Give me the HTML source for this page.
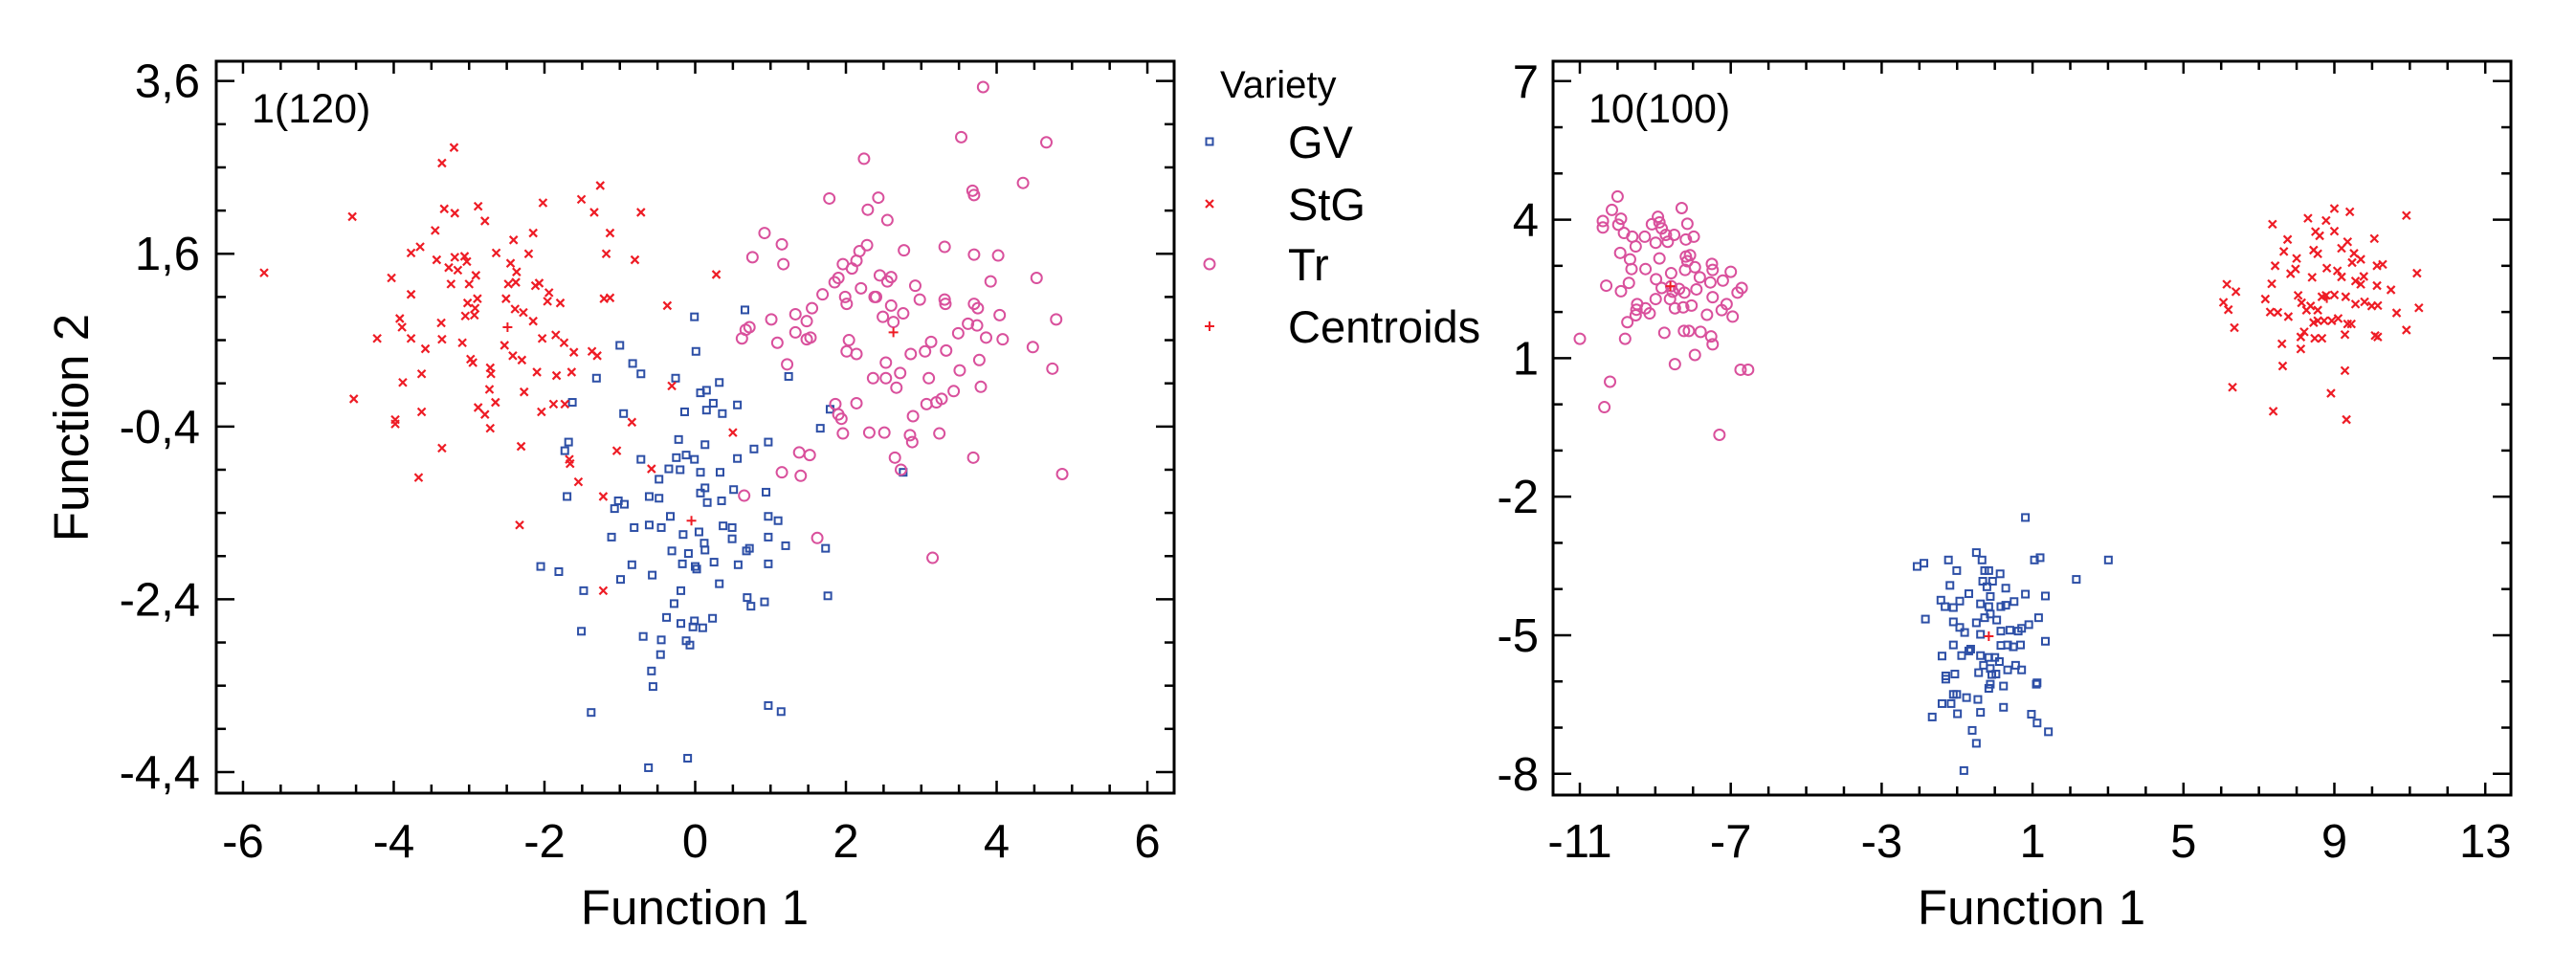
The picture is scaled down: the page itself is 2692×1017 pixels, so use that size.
<!DOCTYPE html>
<html><head><meta charset="utf-8"><style>
html,body{margin:0;padding:0;background:#fff;}
svg{display:block;font-family:"Liberation Sans",sans-serif;}
</style></head><body>
<svg id="chart" width="2692" height="1017" viewBox="0 0 2692 1017" xmlns="http://www.w3.org/2000/svg"></svg>
<script>
// ---------- DATA ----------
const leftXTicks = [-6,-4,-2,0,2,4,6];
const leftYTicks = [3.6,1.6,-0.4,-2.4,-4.4];
const leftYTickLabels = ["3,6","1,6","-0,4","-2,4","-4,4"];
const rightXTicks = [-11,-7,-3,1,5,9,13];
const rightYTicks = [7,4,1,-2,-5,-8];
const legendLabels = ["GV","StG","Tr","Centroids"];

const leftStG = [[-5.72,1.38],[-4.55,2.03],[-4.53,-0.08],[-3.36,2.65],[-3.2,2.83],[-3.33,2.12],[-3.19,2.07],[-2.88,2.15],[-2.79,1.98],[-3.45,1.87],[-3.65,1.68],[-3.77,1.61],[-3.43,1.53],[-3.19,1.56],[-3.06,1.57],[-3.03,1.51],[-3.27,1.44],[-3.15,1.41],[-2.91,1.35],[-3.0,1.25],[-3.24,1.25],[-4.03,1.32],[-3.77,1.13],[-3.02,1.03],[-2.89,1.08],[-2.92,0.97],[-3.05,0.88],[-2.93,0.89],[-3.92,0.85],[-3.89,0.75],[-3.77,0.62],[-3.37,0.8],[-3.36,0.61],[-3.58,0.5],[-3.09,0.57],[-4.22,0.62],[-2.98,0.38],[-2.95,0.34],[-3.63,0.21],[-3.88,0.11],[-2.72,0.28],[-2.71,0.21],[-2.53,0.54],[-2.42,0.42],[-2.3,0.37],[-2.64,1.61],[-2.41,1.76],[-2.15,1.84],[-2.21,1.6],[-2.45,1.49],[-2.37,1.39],[-2.48,1.25],[-2.38,1.27],[-2.12,1.23],[-2.07,1.26],[-2.51,1.08],[-2.39,0.96],[-2.28,0.92],[-2.15,0.82],[-1.94,1.15],[-1.96,1.05],[-1.79,1.03],[-2.03,0.62],[-1.85,0.66],[-1.74,0.57],[-1.61,0.46],[-1.37,0.47],[-1.3,0.42],[-2.1,0.23],[-1.84,0.19],[-1.64,0.23],[-2.02,2.19],[-1.51,2.23],[-1.34,2.08],[-1.26,2.39],[-0.72,2.08],[-1.13,1.84],[-1.18,1.6],[-0.8,1.53],[-1.21,1.08],[-1.13,1.09],[-0.37,1.0],[0.28,1.36],[-2.73,0.03],[-2.27,0.0],[-2.65,-0.12],[-2.88,-0.18],[-2.79,-0.26],[-2.72,-0.42],[-3.63,-0.23],[-3.98,-0.32],[-3.98,-0.37],[-3.36,-0.65],[-3.67,-0.99],[-2.04,-0.23],[-1.88,-0.14],[-1.73,-0.14],[-2.31,-0.63],[-2.33,-1.54],[-1.67,-0.78],[-1.66,-0.83],[-1.55,-1.04],[-1.22,-1.21],[-1.04,-0.68],[-0.84,-0.35],[-0.58,-0.89],[-0.31,0.07],[0.5,-0.47],[-1.22,-2.3]];
const leftGV = [[0.66,0.95],[-0.01,0.87],[-1.0,0.54],[-0.83,0.33],[-0.72,0.21],[-1.31,0.16],[0.01,0.47],[-0.26,0.16],[0.32,0.11],[0.07,-0.01],[0.15,0.02],[-0.14,-0.23],[0.15,-0.21],[0.24,-0.13],[0.36,-0.25],[0.56,-0.15],[-1.63,-0.12],[-0.95,-0.25],[1.24,0.18],[1.79,-0.2],[1.66,-0.42],[-1.68,-0.58],[-1.73,-0.68],[-0.22,-0.55],[0.13,-0.61],[0.78,-0.66],[0.97,-0.58],[-0.72,-0.78],[-0.12,-0.73],[-0.25,-0.76],[-0.01,-0.78],[-0.35,-0.89],[-0.2,-0.9],[-0.48,-1.01],[0.07,-0.93],[0.33,-0.93],[0.56,-0.77],[2.76,-0.93],[-1.7,-1.21],[-1.02,-1.26],[-0.94,-1.3],[-1.07,-1.35],[-0.61,-1.21],[-0.48,-1.23],[0.07,-1.17],[0.13,-1.11],[0.16,-1.28],[0.35,-1.26],[0.51,-1.13],[0.94,-1.16],[0.97,-1.44],[1.1,-1.49],[-0.81,-1.57],[-0.61,-1.54],[-0.45,-1.57],[-0.33,-1.44],[-0.16,-1.65],[0.05,-1.62],[0.37,-1.55],[0.49,-1.57],[-1.11,-1.68],[-0.31,-1.84],[0.12,-1.75],[0.13,-1.83],[-0.09,-1.87],[-0.17,-1.99],[0.0,-2.02],[0.02,-2.05],[0.25,-1.97],[0.49,-1.7],[0.72,-1.81],[0.68,-1.84],[0.57,-2.0],[0.97,-1.68],[1.2,-1.78],[0.97,-1.99],[1.73,-1.81],[-2.05,-2.02],[-1.81,-2.08],[-0.84,-2.0],[-0.99,-2.17],[-1.48,-2.3],[-0.57,-2.12],[-0.19,-2.3],[0.32,-2.22],[0.69,-2.38],[0.74,-2.48],[0.92,-2.43],[1.76,-2.36],[-0.28,-2.45],[-0.38,-2.61],[-0.19,-2.68],[-0.01,-2.65],[-0.03,-2.72],[0.1,-2.73],[0.23,-2.62],[-1.51,-2.77],[-0.69,-2.83],[-0.45,-2.87],[-0.12,-2.88],[-0.07,-2.93],[-0.46,-3.04],[-0.58,-3.23],[-0.56,-3.41],[-1.38,-3.71],[0.97,-3.63],[1.14,-3.7],[-0.1,-4.24],[-0.62,-4.35]];
const leftTr = [[3.82,3.53],[3.53,2.95],[4.66,2.89],[2.24,2.7],[4.35,2.42],[1.78,2.24],[2.43,2.25],[3.68,2.33],[3.7,2.28],[2.29,2.11],[2.55,1.99],[0.92,1.84],[1.15,1.71],[0.76,1.56],[1.17,1.48],[1.96,1.48],[2.14,1.52],[2.18,1.63],[2.28,1.7],[2.77,1.64],[3.31,1.68],[3.7,1.59],[4.02,1.58],[1.9,1.32],[1.85,1.27],[2.08,1.43],[2.45,1.35],[2.6,1.33],[2.55,1.28],[3.92,1.28],[4.53,1.32],[2.92,1.23],[2.2,1.2],[1.69,1.13],[1.99,1.1],[2.01,1.02],[2.38,1.1],[2.4,1.1],[2.6,1.0],[2.98,1.07],[3.31,1.07],[3.32,1.02],[3.7,1.02],[3.75,0.97],[1.55,0.97],[1.33,0.9],[1.48,0.82],[1.01,0.84],[2.49,0.87],[2.63,0.81],[2.76,0.91],[4.04,0.89],[4.79,0.84],[0.72,0.75],[0.62,0.62],[0.67,0.72],[1.09,0.57],[1.33,0.69],[1.48,0.61],[1.53,0.63],[2.04,0.6],[3.13,0.58],[3.49,0.68],[3.62,0.79],[3.74,0.77],[3.86,0.63],[4.08,0.61],[4.48,0.52],[2.01,0.47],[2.14,0.44],[2.86,0.44],[3.05,0.47],[3.33,0.48],[1.22,0.32],[2.53,0.34],[2.72,0.22],[3.1,0.16],[3.51,0.25],[3.77,0.37],[4.74,0.27],[2.36,0.16],[2.53,0.16],[2.67,0.05],[3.43,0.01],[3.79,0.06],[3.27,-0.08],[3.2,-0.12],[3.07,-0.14],[1.86,-0.14],[2.14,-0.13],[1.9,-0.26],[1.94,-0.31],[2.89,-0.28],[1.96,-0.48],[2.31,-0.47],[2.51,-0.47],[2.85,-0.5],[2.88,-0.58],[3.24,-0.48],[1.38,-0.7],[1.52,-0.73],[2.65,-0.76],[2.73,-0.9],[3.69,-0.76],[4.87,-0.95],[1.15,-0.93],[1.4,-0.97],[0.65,-1.2],[1.62,-1.69],[3.15,-1.92]];
const leftCentroids = [[-2.49,0.75],[-0.05,-1.49],[2.63,0.69]];

const rightTr = [[-10.0,4.5],[-10.15,4.21],[-10.39,3.97],[-10.39,3.83],[-9.91,4.02],[-9.98,3.89],[-9.83,3.71],[-9.61,3.63],[-9.28,3.63],[-8.93,4.06],[-8.89,3.94],[-9.09,3.9],[-8.83,3.81],[-8.72,3.67],[-8.5,3.67],[-8.3,4.25],[-8.15,3.91],[-8.19,3.57],[-7.98,3.63],[-9.52,3.42],[-9.93,3.28],[-9.67,3.14],[-9.63,2.93],[-9.26,2.93],[-8.89,3.16],[-8.67,3.52],[-8.99,3.5],[-8.19,3.2],[-8.08,3.23],[-8.15,3.1],[-8.21,2.91],[-7.95,2.97],[-7.5,3.04],[-7.48,2.91],[-7.0,2.87],[-7.82,2.75],[-10.3,2.57],[-9.91,2.45],[-9.7,2.63],[-8.98,2.71],[-8.83,2.52],[-8.58,2.84],[-8.58,2.56],[-8.54,2.44],[-8.37,2.5],[-8.23,2.42],[-7.91,2.49],[-7.54,2.64],[-7.21,2.68],[-6.71,2.52],[-6.82,2.42],[-8.99,2.28],[-8.61,2.28],[-8.48,2.08],[-8.26,2.1],[-8.04,2.14],[-7.48,2.32],[-7.24,2.04],[-7.11,2.17],[-6.95,1.9],[-7.63,1.94],[-9.48,2.17],[-9.5,2.05],[-9.26,2.08],[-9.52,1.93],[-9.74,1.78],[-9.15,1.97],[-8.76,1.55],[-8.24,1.59],[-8.11,1.59],[-7.8,1.57],[-7.52,1.47],[-7.48,1.3],[-7.95,1.07],[-11.0,1.42],[-9.8,1.42],[-8.48,0.87],[-10.2,0.49],[-6.74,0.75],[-6.54,0.75],[-10.35,-0.06],[-7.3,-0.66]];
const rightStG = [[7.36,3.9],[8.3,4.03],[9.0,4.24],[9.41,4.17],[10.91,4.09],[8.78,3.98],[7.76,3.57],[8.5,3.74],[8.61,3.65],[9.0,3.75],[9.35,3.52],[10.06,3.59],[7.66,3.31],[8.0,3.16],[8.45,3.34],[8.56,3.26],[9.19,3.38],[9.52,3.27],[9.7,3.14],[9.47,3.07],[10.28,3.03],[10.13,3.0],[11.19,2.84],[7.43,3.0],[7.84,2.83],[7.97,2.93],[8.41,2.75],[8.8,2.95],[9.08,2.89],[9.19,2.76],[9.56,2.67],[9.78,2.77],[9.7,2.6],[10.13,2.57],[10.5,2.48],[7.34,2.61],[6.15,2.6],[6.39,2.44],[6.06,2.21],[6.19,2.05],[6.35,1.66],[7.17,2.28],[7.3,2.0],[7.5,1.99],[7.78,1.9],[8.04,2.36],[8.13,2.2],[8.26,2.04],[8.37,2.13],[8.56,2.04],[8.67,2.33],[8.78,2.36],[9.0,2.37],[9.3,2.33],[9.56,2.17],[9.8,2.22],[9.99,2.13],[10.15,2.14],[10.65,1.98],[11.24,2.09],[10.91,1.61],[8.45,1.77],[8.56,1.81],[8.73,1.81],[8.93,1.81],[9.1,1.86],[9.35,1.74],[9.28,1.51],[9.45,1.74],[10.08,1.49],[10.15,1.46],[8.11,1.46],[8.2,1.57],[8.48,1.43],[8.67,1.43],[7.61,1.31],[8.11,1.2],[7.63,0.83],[9.28,0.73],[6.3,0.37],[8.91,0.24],[7.38,-0.15],[9.32,-0.33]];
const rightGV = [[0.81,-2.45],[-0.49,-3.21],[-0.34,-3.37],[-1.23,-3.37],[-1.88,-3.44],[-2.06,-3.51],[1.05,-3.37],[1.2,-3.32],[3.01,-3.37],[2.16,-3.79],[-1.01,-3.6],[-0.27,-3.6],[-0.16,-3.6],[0.14,-3.67],[-0.32,-3.83],[-0.06,-3.83],[-1.19,-3.92],[-0.21,-3.95],[0.29,-3.98],[-0.69,-4.1],[-0.12,-4.16],[0.81,-4.11],[1.34,-4.15],[0.51,-4.27],[-1.43,-4.24],[-0.93,-4.26],[-1.32,-4.38],[-1.1,-4.4],[-0.38,-4.32],[-0.16,-4.38],[0.16,-4.38],[0.29,-4.35],[-0.12,-4.54],[-0.27,-4.62],[0.05,-4.67],[-1.84,-4.65],[-1.1,-4.71],[-0.49,-4.73],[0.16,-4.91],[0.4,-4.89],[0.62,-4.91],[0.71,-4.85],[0.9,-4.77],[1.16,-4.62],[-0.93,-4.83],[-0.8,-4.94],[-0.38,-4.98],[1.34,-5.13],[-1.1,-5.21],[0.16,-5.22],[0.34,-5.21],[0.49,-5.25],[0.68,-5.21],[-0.64,-5.3],[-0.69,-5.34],[-0.88,-5.44],[-1.4,-5.45],[-0.38,-5.44],[-0.16,-5.48],[0.0,-5.48],[0.12,-5.57],[-0.3,-5.65],[-0.12,-5.72],[0.34,-5.75],[0.55,-5.65],[0.71,-5.75],[-0.43,-5.81],[-1.3,-5.88],[-1.06,-5.84],[-1.3,-5.95],[-0.08,-5.85],[0.03,-5.84],[1.12,-6.03],[1.1,-6.06],[-0.12,-6.06],[-0.16,-6.15],[0.23,-6.1],[-1.1,-6.28],[-1.01,-6.28],[-0.75,-6.35],[-0.45,-6.39],[-1.4,-6.48],[-1.16,-6.48],[0.23,-6.56],[-1.66,-6.77],[-0.99,-6.7],[-0.38,-6.67],[0.97,-6.71],[1.12,-6.9],[1.42,-7.09],[-0.6,-7.06],[-0.49,-7.34],[-0.82,-7.93]];
const rightCentroids = [[-8.6,2.56],[-0.16,-5.02],[8.8,2.3]];

// ---------- RENDER ----------
const NS="http://www.w3.org/2000/svg";
const svg=document.getElementById('chart');
const BLUE="#2d4fa6", RED="#ee1c25", PINK="#d9509c";
function mk(tag,attrs,parent){const e=document.createElementNS(NS,tag);for(const k in attrs)e.setAttribute(k,attrs[k]);(parent||svg).appendChild(e);return e;}
function txt(s,x,y,size,anchor,parent,rot){
  const t=mk('text',{'font-size':size,'text-anchor':anchor,fill:'#000',
    transform:`translate(${x},${y})`+(rot?` rotate(${rot})`:'')},parent);
  t.textContent=s;return t;
}
function marker(kind,cx,cy,g){
  let m;
  if(kind==='sq'){m=mk('rect',{x:cx-3.5,y:cy-3.5,width:7,height:7,fill:'none',stroke:BLUE,'stroke-width':2},g);}
  else if(kind==='x'){m=mk('path',{d:`M${cx-4},${cy-4}L${cx+4},${cy+4}M${cx+4},${cy-4}L${cx-4},${cy+4}`,stroke:RED,'stroke-width':2.2,fill:'none'},g);}
  else if(kind==='o'){m=mk('circle',{cx:cx,cy:cy,r:5.5,fill:'none',stroke:PINK,'stroke-width':2},g);}
  else {m=mk('path',{d:`M${cx-5},${cy}L${cx+5},${cy}M${cx},${cy-5}L${cx},${cy+5}`,stroke:RED,'stroke-width':2,fill:'none'},g);}
  return m;
}
function panel(cfg){
  const g=mk('g',{});
  
  
  const sx=v=>cfg.L+(v-cfg.xmin)/(cfg.xmax-cfg.xmin)*(cfg.R-cfg.L);
  const sy=v=>cfg.B-(v-cfg.ymin)/(cfg.ymax-cfg.ymin)*(cfg.B-cfg.T);
  const frame=mk('rect',{x:cfg.L,y:cfg.T,width:cfg.R-cfg.L,height:cfg.B-cfg.T,fill:'none',stroke:'#000','stroke-width':3},g);
  
  
  const tg=mk('g',{stroke:'#000','stroke-width':2.5},g);
  
  
  for(let v=cfg.xTicks[0]; v<=cfg.xTicks[cfg.xTicks.length-1]+1e-9; v+=cfg.xMinor){
    const major=cfg.xTicks.some(t=>Math.abs(t-v)<1e-6); const len=major?13:9; const x=sx(v);
    mk('line',{x1:x,y1:cfg.B,x2:x,y2:cfg.B-len},tg); mk('line',{x1:x,y1:cfg.T,x2:x,y2:cfg.T+len},tg);
  }
  const y0=Math.min(...cfg.yTicks), y1=Math.max(...cfg.yTicks);
  for(let v=y0; v<=y1+1e-9; v+=cfg.yMinor){
    const major=cfg.yTicks.some(t=>Math.abs(t-v)<1e-6); const len=major?19:10; const y=sy(v);
    mk('line',{x1:cfg.L,y1:y,x2:cfg.L+len,y2:y},tg); mk('line',{x1:cfg.R,y1:y,x2:cfg.R-len,y2:y},tg);
  }
  cfg.xTicks.forEach(v=>{const t=txt(String(v),sx(v),896,49,'middle',g);
    
    });
  cfg.yTicks.forEach((v,i)=>{const t=txt(cfg.yLabels[i],cfg.yLabelX,sy(v)+17,49,'end',g);
    
    });
  const xt=txt('Function 1',cfg.titleX,966,51,'middle',g);
  
  
  const an=txt(cfg.note,cfg.L+37,128,43,'start',g);
  
  
  const series=[['gv-series','sq',cfg.gv],['stg-series','x',cfg.stg],['tr-series','o',cfg.tr],['centroid-series','c',cfg.cen]];
  series.forEach(([nm,kind,data])=>{
    const sg=mk('g',{},g);
    
    
    data.forEach(p=>{const m=marker(kind,sx(p[0]),sy(p[1]),sg);
      
      });
  });
  return g;
}
panel({name:'left-panel',L:226,R:1227,T:64,B:829,xmin:-6.355,xmax:6.355,ymin:-4.644,ymax:3.829,
  xTicks:leftXTicks,xMinor:0.5,yTicks:leftYTicks,yLabels:leftYTickLabels,yMinor:0.5,yLabelX:209,titleX:726,note:'1(120)',
  gv:leftGV,stg:leftStG,tr:leftTr,cen:leftCentroids});
panel({name:'right-panel',L:1623,R:2624,T:64,B:831,xmin:-11.71,xmax:13.68,ymin:-8.46,ymax:7.43,
  xTicks:rightXTicks,xMinor:1,yTicks:rightYTicks,yLabels:rightYTicks.map(String),yMinor:1,yLabelX:1608,titleX:2123,note:'10(100)',
  gv:rightGV,stg:rightStG,tr:rightTr,cen:rightCentroids});
const yt=txt('Function 2',92,447,51,'middle',svg,-90);


const lg=mk('g',{});


const lt=txt('Variety',1275,102,40,'start',lg);


const kinds=['sq','x','o','c'], ys=[165,230,293,358];
legendLabels.forEach((s,i)=>{
  const m=marker(kinds[i],1264,ys[i]-17,lg);
  
  
  const t=txt(s,1346,ys[i],47,'start',lg);
  
  
});
</script>
</body></html>
